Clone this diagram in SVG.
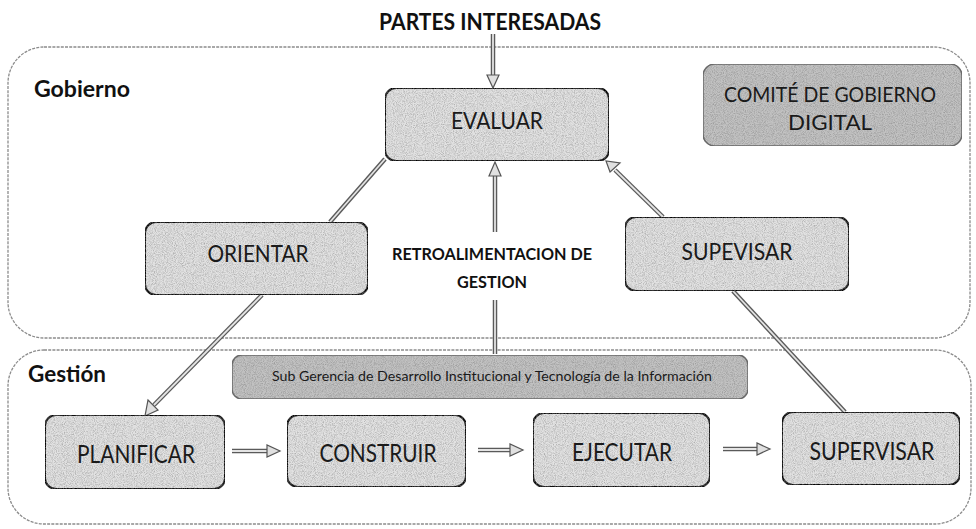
<svg xmlns="http://www.w3.org/2000/svg" width="976" height="529" viewBox="0 0 976 529">
<defs>
<filter id="grain" x="0" y="0" width="100%" height="100%">
<feTurbulence type="fractalNoise" baseFrequency="1.1" numOctaves="1" seed="4" result="noise"/>
<feColorMatrix in="noise" type="matrix" values="0 0 0 0 0.15 0 0 0 0 0.15 0 0 0 0 0.15 1.3 0 0 0 -0.5" result="dots"/>
<feComposite in="dots" in2="SourceGraphic" operator="in" result="clipped"/>
<feMerge><feMergeNode in="SourceGraphic"/><feMergeNode in="clipped"/></feMerge>
</filter>
<marker id="head" viewBox="0 0 12 12" refX="11" refY="6" markerWidth="12" markerHeight="12" markerUnits="userSpaceOnUse" orient="auto">
<path d="M1,1 L11,6 L1,11 Z" fill="#e0e0e0" stroke="#555" stroke-width="1.2"/>
</marker>
</defs>
<style>
.region{fill:none;stroke:#8c8c8c;stroke-width:1.3;stroke-dasharray:3 1.2}
.node{fill:#e2e2e2;stroke:#111;stroke-width:2}
.dark{fill:#c2c2c2;stroke:#6a6a6a;stroke-width:1.5}
.lbl{font-family:Lato,"Open Sans","Liberation Sans",sans-serif;fill:#1a1a1a;text-anchor:middle}
.bold{font-family:Lato,"Open Sans","Liberation Sans",sans-serif;font-weight:bold;fill:#111}
.outer{fill:none;stroke:#5a5a5a;stroke-width:4.5}
.inner{fill:none;stroke:#e4e4e4;stroke-width:1.8}
</style>
<rect x="8" y="47" width="962" height="291" rx="36" class="region"/>
<rect x="8" y="350" width="963" height="174" rx="36" class="region"/>
<text x="490" y="30" class="bold" font-size="22" text-anchor="middle" textLength="222" lengthAdjust="spacingAndGlyphs">PARTES INTERESADAS</text>
<text x="34" y="97" class="bold" font-size="22" textLength="96" lengthAdjust="spacingAndGlyphs">Gobierno</text>
<text x="28" y="382" class="bold" font-size="22" textLength="78" lengthAdjust="spacingAndGlyphs">Gestión</text>
<g id="connectors">
<g>
<line x1="493" y1="34" x2="493" y2="76" class="outer"/><line x1="493" y1="34" x2="493" y2="76" class="inner"/>
<path d="M487,75 L499,75 L493,88 Z" fill="#e0e0e0" stroke="#555" stroke-width="1.2"/>
</g>
<g>
<line x1="385" y1="159" x2="330" y2="222" class="outer"/><line x1="385" y1="159" x2="330" y2="222" class="inner"/>
</g>
<g>
<line x1="262" y1="295" x2="154" y2="405" class="outer"/><line x1="262" y1="295" x2="154" y2="405" class="inner"/>
<path d="M148,400 L158,410 L145,416 Z" fill="#e0e0e0" stroke="#555" stroke-width="1.2"/>
</g>
<g>
<line x1="733" y1="291" x2="845" y2="412" class="outer"/><line x1="733" y1="291" x2="845" y2="412" class="inner"/>
</g>
<g>
<line x1="663" y1="217" x2="615" y2="170" class="outer"/><line x1="663" y1="217" x2="615" y2="170" class="inner"/>
<path d="M610,172 L620,163 L606,161 Z" fill="#e0e0e0" stroke="#555" stroke-width="1.2"/>
</g>
<g>
<line x1="495" y1="232" x2="495" y2="175" class="outer"/><line x1="495" y1="232" x2="495" y2="175" class="inner"/>
<path d="M489,176 L501,176 L495,162 Z" fill="#e0e0e0" stroke="#555" stroke-width="1.2"/>
</g>
<g>
<line x1="495" y1="300" x2="495" y2="354" class="outer"/><line x1="495" y1="300" x2="495" y2="354" class="inner"/>
</g>
<g>
<line x1="232" y1="451" x2="268" y2="451" class="outer"/><line x1="232" y1="451" x2="268" y2="451" class="inner"/>
<path d="M267,445 L267,457 L280,451 Z" fill="#e0e0e0" stroke="#555" stroke-width="1.2"/>
</g>
<g>
<line x1="478" y1="450" x2="511" y2="450" class="outer"/><line x1="478" y1="450" x2="511" y2="450" class="inner"/>
<path d="M510,444 L510,456 L523,450 Z" fill="#e0e0e0" stroke="#555" stroke-width="1.2"/>
</g>
<g>
<line x1="723" y1="449" x2="758" y2="449" class="outer"/><line x1="723" y1="449" x2="758" y2="449" class="inner"/>
<path d="M757,443 L757,455 L770,449 Z" fill="#e0e0e0" stroke="#555" stroke-width="1.2"/>
</g>
</g>
<text x="492" y="260" class="bold" font-size="17" text-anchor="middle" textLength="200" lengthAdjust="spacingAndGlyphs">RETROALIMENTACION DE</text>
<text x="492" y="288" class="bold" font-size="17" text-anchor="middle" textLength="70" lengthAdjust="spacingAndGlyphs">GESTION</text>
<g id="evaluar">
<rect x="385" y="88" width="224" height="73" rx="11" class="node" filter="url(#grain)"/>
<text x="497" y="129" class="lbl" font-size="23" textLength="92" lengthAdjust="spacingAndGlyphs">EVALUAR</text>
</g>
<g id="comite">
<rect x="703" y="64" width="259" height="82" rx="12" class="dark" filter="url(#grain)"/>
<text x="830" y="102" class="lbl" font-size="21" textLength="212" lengthAdjust="spacingAndGlyphs">COMITÉ DE GOBIERNO</text>
<text x="830" y="130" class="lbl" font-size="21" textLength="84" lengthAdjust="spacingAndGlyphs">DIGITAL</text>
</g>
<g id="orientar">
<rect x="145" y="222" width="223" height="73" rx="11" class="node" filter="url(#grain)"/>
<text x="258" y="262" class="lbl" font-size="23" textLength="101" lengthAdjust="spacingAndGlyphs">ORIENTAR</text>
</g>
<g id="supevisar">
<rect x="625" y="217" width="224" height="74" rx="11" class="node" filter="url(#grain)"/>
<text x="737" y="260" class="lbl" font-size="23" textLength="111" lengthAdjust="spacingAndGlyphs">SUPEVISAR</text>
</g>
<g id="subgerencia">
<rect x="232" y="355" width="516" height="44" rx="10" class="dark" filter="url(#grain)"/>
<text x="492" y="381" class="lbl" font-size="14" textLength="440" lengthAdjust="spacingAndGlyphs">Sub Gerencia de Desarrollo Institucional y Tecnología de la Información</text>
</g>
<g id="planificar">
<rect x="45" y="415" width="180" height="74" rx="11" class="node" filter="url(#grain)"/>
<text x="136" y="463" class="lbl" font-size="25" textLength="118" lengthAdjust="spacingAndGlyphs">PLANIFICAR</text>
</g>
<g id="construir">
<rect x="287" y="415" width="179" height="72" rx="11" class="node" filter="url(#grain)"/>
<text x="378" y="462" class="lbl" font-size="25" textLength="117" lengthAdjust="spacingAndGlyphs">CONSTRUIR</text>
</g>
<g id="ejecutar">
<rect x="533" y="413" width="177" height="74" rx="11" class="node" filter="url(#grain)"/>
<text x="622" y="461" class="lbl" font-size="25" textLength="100" lengthAdjust="spacingAndGlyphs">EJECUTAR</text>
</g>
<g id="supervisar">
<rect x="782" y="412" width="178" height="73" rx="11" class="node" filter="url(#grain)"/>
<text x="872" y="460" class="lbl" font-size="25" textLength="125" lengthAdjust="spacingAndGlyphs">SUPERVISAR</text>
</g>
</svg>
